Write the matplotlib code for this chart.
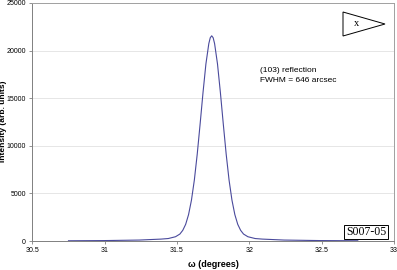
import matplotlib
matplotlib.use("Agg")
import matplotlib.pyplot as plt
from matplotlib.patches import Polygon

# omega (degrees) and intensity
omega = [30.75, 31.00, 31.24, 31.39, 31.44, 31.49, 31.52, 31.54, 31.56, 31.58,
         31.60, 31.62, 31.64, 31.66, 31.68, 31.70, 31.72, 31.73, 31.74, 31.75,
         31.76, 31.78, 31.80, 31.82, 31.84, 31.86, 31.88, 31.90, 31.92, 31.94,
         31.96, 31.99, 32.04, 32.09, 32.24, 32.49, 32.75]
intensity = [25, 45, 100, 200, 260, 450, 730, 1120, 1750, 2770,
             4290, 6400, 9130, 12300, 15600, 18600, 20730, 21350, 21550, 21350,
             20730, 18600, 15600, 12300, 9130, 6400, 4290, 2770, 1750, 1120,
             730, 450, 260, 200, 100, 45, 25]

x_ticks = [30.5, 31, 31.5, 32, 32.5, 33]
x_tick_labels = ["30.5", "31", "31.5", "32", "32.5", "33"]
y_ticks = [0, 5000, 10000, 15000, 20000, 25000]

note_lines = ["(103) reflection", "FWHM = 646 arcsec"]
sample_id = "S007-05"

plt.rcParams["font.family"] = ["Liberation Sans", "DejaVu Sans"]

fig = plt.figure(figsize=(3.97, 2.70), dpi=100)
ax = fig.add_axes([0.0814, 0.1074, 0.9110, 0.8816])

ax.plot(omega, intensity, color="#4a4a9c", linewidth=0.8)

ax.set_xlim(30.5, 33)
ax.set_ylim(0, 25000)
ax.set_xticks(x_ticks)
ax.set_xticklabels(x_tick_labels)
ax.set_yticks(y_ticks)
ax.tick_params(labelsize=5, length=2.5, width=0.6, color="#808080", pad=2)
ax.yaxis.grid(True, color="#e2e2e2", linewidth=0.6)
ax.set_axisbelow(True)
for s in ax.spines.values():
    s.set_color("#a0a0a0")
    s.set_linewidth(0.7)
ax.spines["left"].set_color("#808080")
ax.spines["bottom"].set_color("#808080")

ax.set_xlabel("\u03c9 (degrees)", fontsize=6.5, fontweight="bold", labelpad=4)
# y label squeezed against the left edge
fig.text(4 / 397, 0.55, "Intensity (arb. units)", rotation=90, fontsize=6,
         fontweight="bold", ha="center", va="center")

# annotation text
fig.text(260 / 397, 1 - 71 / 270, note_lines[0], fontsize=6, va="center")
fig.text(260 / 397, 1 - 81 / 270, note_lines[1], fontsize=6, va="center")

# direction marker (triangle with x)
tri = Polygon([(343 / 397, 1 - 12 / 270), (343 / 397, 1 - 36 / 270),
               (385 / 397, 1 - 24 / 270)], closed=True, fill=False,
              edgecolor="black", linewidth=0.7, transform=fig.transFigure)
fig.patches.append(tri)
fig.text(357 / 397, 1 - 24 / 270, "x", fontsize=7.5, family="Liberation Serif",
         ha="center", va="center")

# sample id box
fig.text(366 / 397, 1 - 232 / 270, sample_id, fontsize=8.5,
         family="Liberation Serif", ha="center", va="center",
         bbox=dict(boxstyle="square,pad=0.12", facecolor="white",
                   edgecolor="black", linewidth=0.7))

fig.savefig("out.png", dpi=100)
